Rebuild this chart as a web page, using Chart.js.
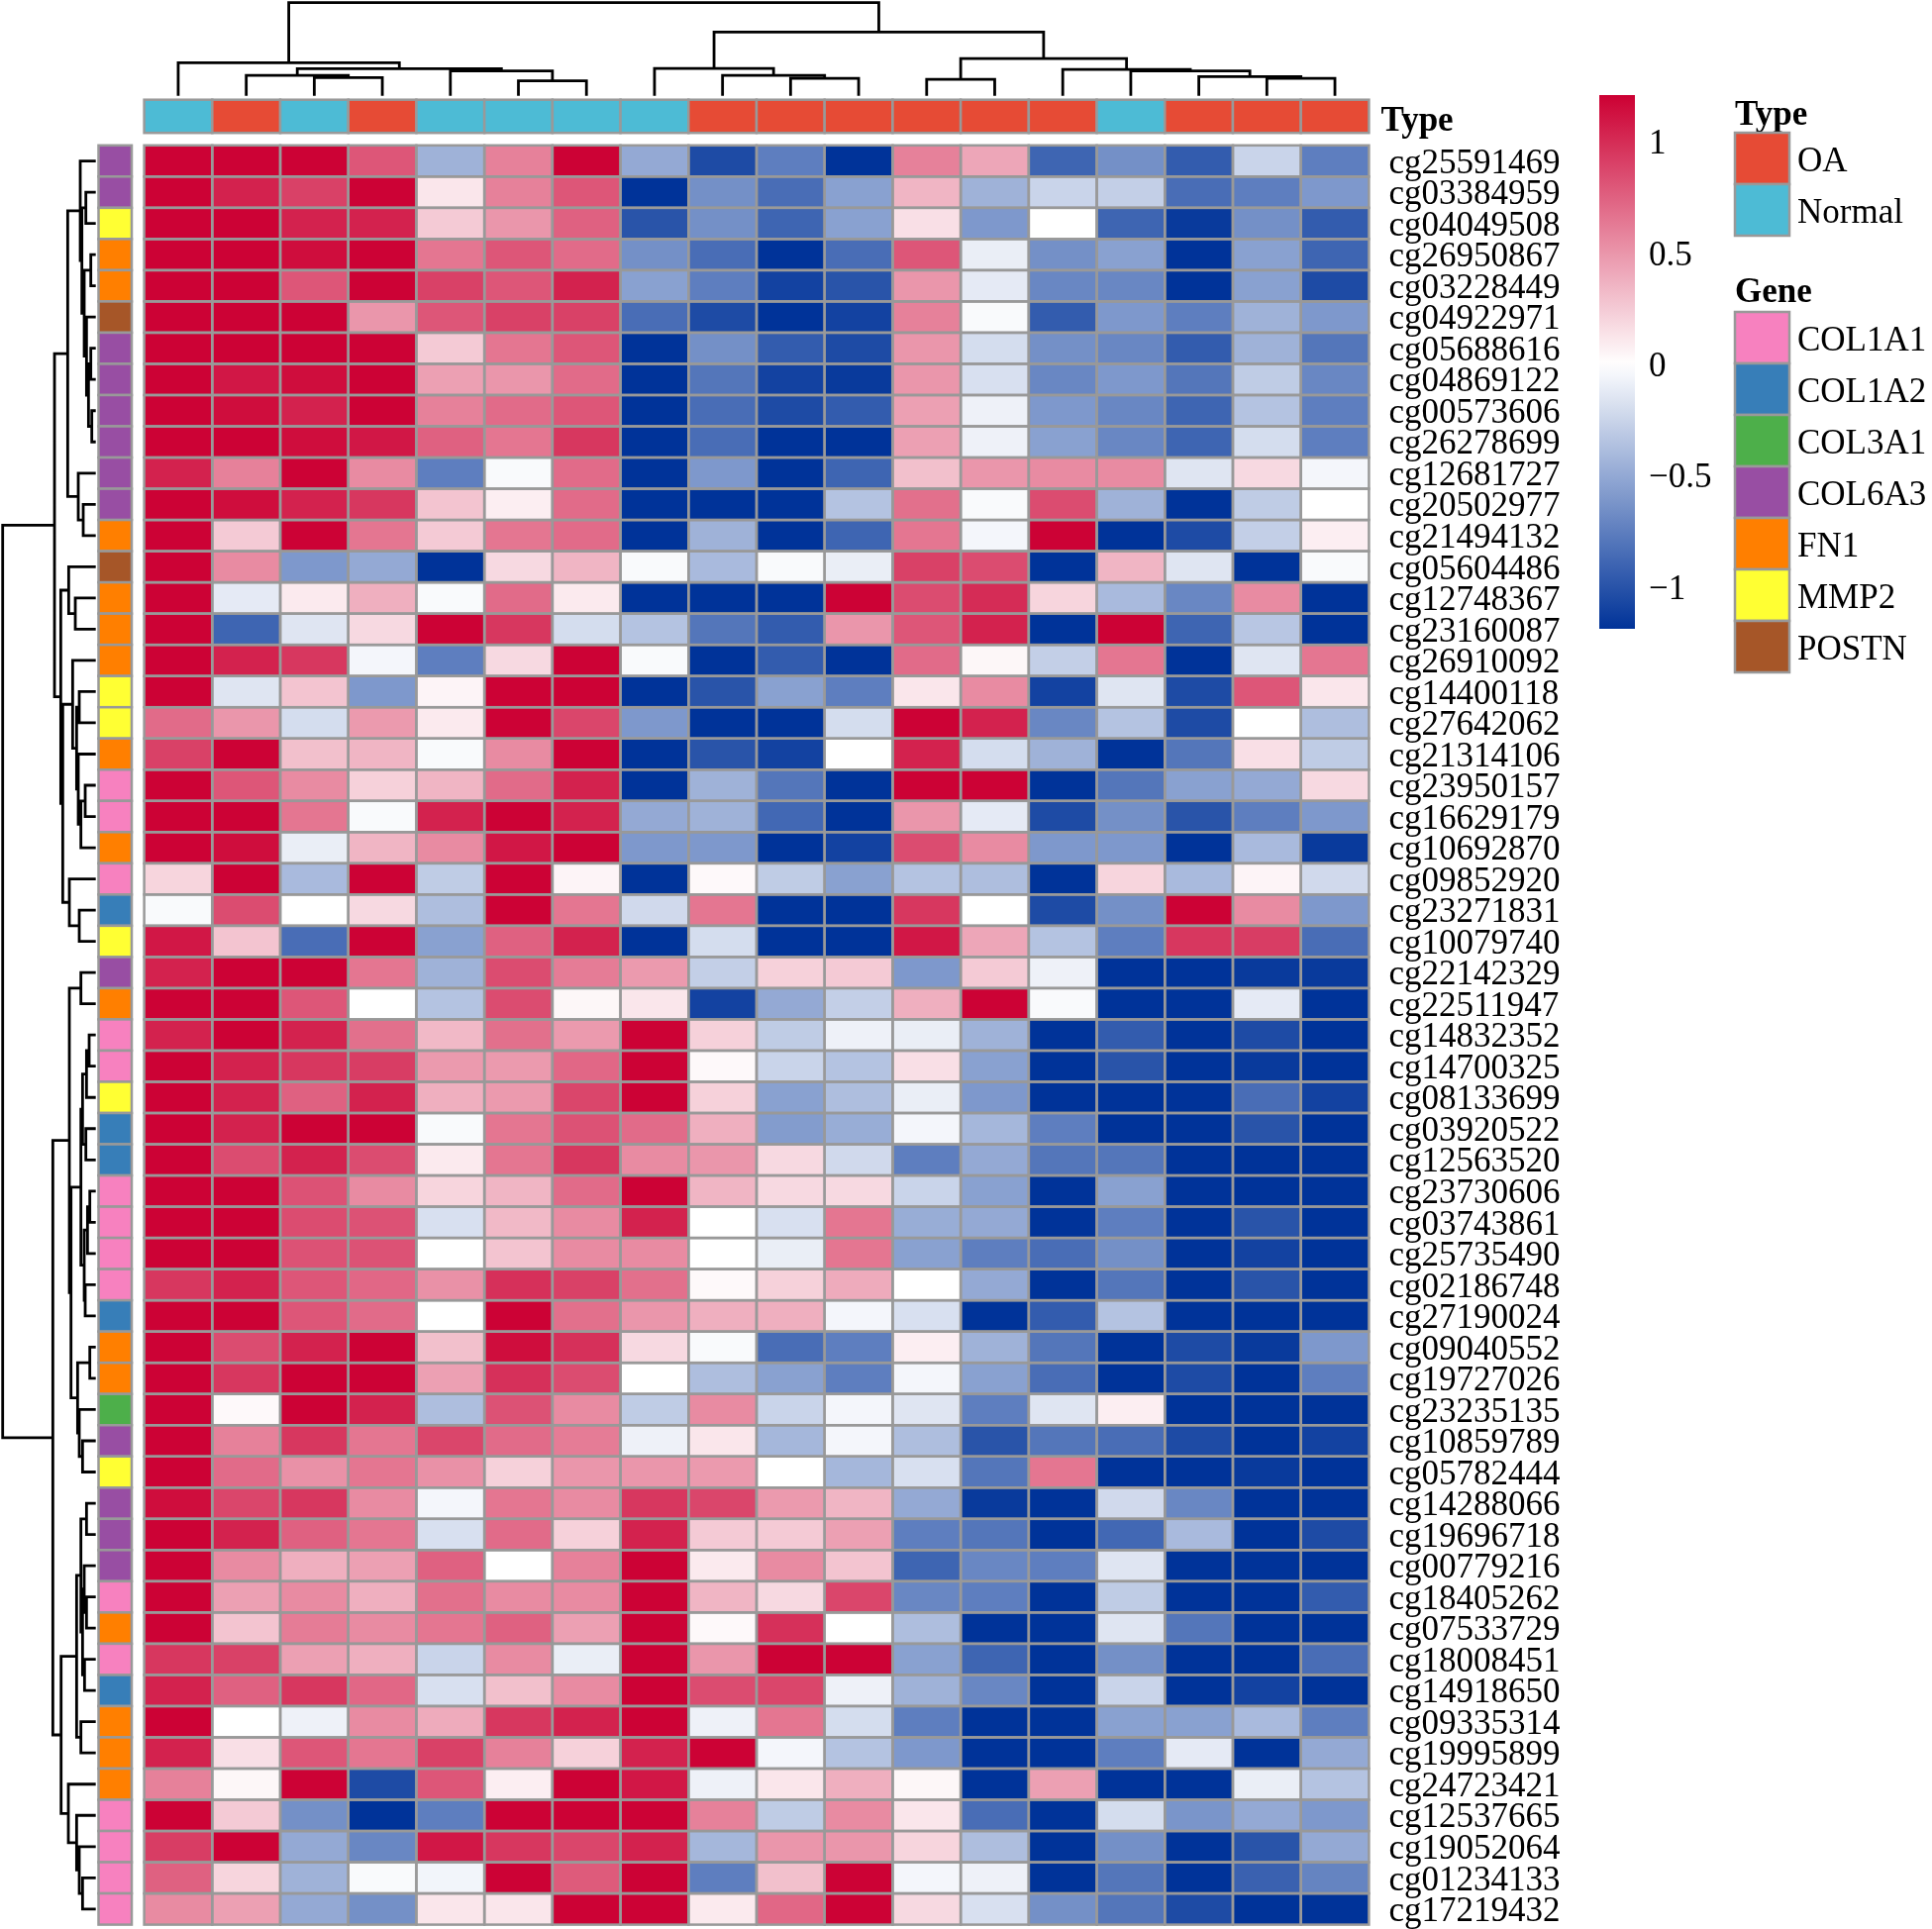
<!DOCTYPE html>
<html>
<head>
<meta charset="utf-8">
<script src="https://cdn.jsdelivr.net/npm/chart.js@4.4.1/dist/chart.umd.min.js"></script>
<style>
  html, body { margin: 0; padding: 0; background: #fff; }
  canvas { display: block; }
</style>
</head>
<body>
<canvas id="heatmap" width="1951" height="1948"></canvas>
<script>
// Probe names (rows, top to bottom)
const probes = [
  'cg25591469','cg03384959','cg04049508','cg26950867','cg03228449','cg04922971','cg05688616','cg04869122',
  'cg00573606','cg26278699','cg12681727','cg20502977','cg21494132','cg05604486','cg12748367','cg23160087',
  'cg26910092','cg14400118','cg27642062','cg21314106','cg23950157','cg16629179','cg10692870','cg09852920',
  'cg23271831','cg10079740','cg22142329','cg22511947','cg14832352','cg14700325','cg08133699','cg03920522',
  'cg12563520','cg23730606','cg03743861','cg25735490','cg02186748','cg27190024','cg09040552','cg19727026',
  'cg23235135','cg10859789','cg05782444','cg14288066','cg19696718','cg00779216','cg18405262','cg07533729',
  'cg18008451','cg14918650','cg09335314','cg19995899','cg24723421','cg12537665','cg19052064','cg01234133',
  'cg17219432'
];

// Gene annotation of each probe
const probeGene = [
  'COL6A3','COL6A3','MMP2','FN1','FN1','POSTN','COL6A3','COL6A3','COL6A3','COL6A3','COL6A3','COL6A3',
  'FN1','POSTN','FN1','FN1','FN1','MMP2','MMP2','FN1','COL1A1','COL1A1','FN1','COL1A1','COL1A2','MMP2',
  'COL6A3','FN1','COL1A1','COL1A1','MMP2','COL1A2','COL1A2','COL1A1','COL1A1','COL1A1','COL1A1','COL1A2',
  'FN1','FN1','COL3A1','COL6A3','MMP2','COL6A3','COL6A3','COL6A3','COL1A1','FN1','COL1A1','COL1A2',
  'FN1','FN1','FN1','COL1A1','COL1A1','COL1A1','COL1A1'
];

// Sample type of each column (left to right)
const sampleType = ['Normal','OA','Normal','OA','Normal','Normal','Normal','Normal','OA',
                    'OA','OA','OA','OA','OA','Normal','OA','OA','OA'];

// Scaled methylation values, one array per probe
const methylation = [
  [1.2,1.2,1.2,0.8,-0.45,0.6,1.2,-0.5,-1.05,-0.75,-1.2,0.6,0.42,-0.9,-0.65,-0.95,-0.25,-0.75],
  [1.2,1.05,0.9,1.2,0.12,0.6,0.8,-1.2,-0.65,-0.85,-0.55,0.35,-0.45,-0.25,-0.28,-0.85,-0.75,-0.6],
  [1.2,1.2,1.05,1.05,0.25,0.5,0.75,-1.0,-0.65,-0.9,-0.55,0.15,-0.6,0.0,-0.9,-1.15,-0.65,-0.95],
  [1.2,1.2,1.15,1.2,0.65,0.8,0.7,-0.65,-0.85,-1.2,-0.85,0.8,-0.1,-0.65,-0.55,-1.2,-0.55,-0.9],
  [1.2,1.2,0.8,1.2,0.9,0.8,1.05,-0.55,-0.75,-1.1,-1.0,0.5,-0.12,-0.7,-0.7,-1.2,-0.55,-1.05],
  [1.2,1.2,1.2,0.5,0.8,0.9,0.9,-0.85,-1.05,-1.2,-1.1,0.6,-0.03,-0.95,-0.6,-0.75,-0.45,-0.6],
  [1.2,1.2,1.2,1.2,0.25,0.65,0.8,-1.2,-0.65,-0.95,-1.05,0.5,-0.2,-0.65,-0.7,-0.95,-0.45,-0.8],
  [1.2,1.1,1.15,1.2,0.45,0.5,0.7,-1.2,-0.8,-1.1,-1.15,0.5,-0.18,-0.7,-0.6,-0.8,-0.3,-0.7],
  [1.2,1.15,1.05,1.2,0.6,0.7,0.8,-1.2,-0.85,-1.05,-0.95,0.45,-0.08,-0.6,-0.7,-0.9,-0.35,-0.75],
  [1.2,1.2,1.15,1.1,0.75,0.65,0.95,-1.2,-0.85,-1.2,-1.2,0.45,-0.08,-0.55,-0.7,-0.9,-0.2,-0.75],
  [1.05,0.6,1.2,0.55,-0.75,-0.03,0.7,-1.2,-0.6,-1.2,-0.9,0.3,0.5,0.55,0.55,-0.15,0.18,-0.05],
  [1.2,1.15,1.05,0.95,0.28,0.08,0.7,-1.2,-1.2,-1.2,-0.35,0.68,-0.03,0.85,-0.45,-1.2,-0.3,0.0],
  [1.2,0.25,1.2,0.65,0.25,0.65,0.7,-1.2,-0.45,-1.2,-0.9,0.65,-0.05,1.2,-1.2,-1.05,-0.28,0.08],
  [1.2,0.55,-0.6,-0.5,-1.2,0.18,0.35,-0.03,-0.4,-0.03,-0.1,0.9,0.85,-1.2,0.35,-0.15,-1.2,-0.03],
  [1.2,-0.12,0.1,0.38,-0.03,0.7,0.1,-1.2,-1.2,-1.2,1.2,0.85,1.0,0.2,-0.4,-0.7,0.55,-1.2],
  [1.2,-0.9,-0.15,0.18,1.2,0.95,-0.2,-0.35,-0.8,-0.95,0.5,0.8,1.05,-1.2,1.2,-0.9,-0.33,-1.2],
  [1.2,1.05,0.95,-0.05,-0.75,0.18,1.2,-0.03,-1.2,-0.95,-1.2,0.7,0.04,-0.28,0.65,-1.2,-0.15,0.65],
  [1.2,-0.15,0.28,-0.6,0.05,1.2,1.2,-1.2,-1.0,-0.55,-0.75,0.12,0.55,-1.1,-0.15,-1.05,0.8,0.12],
  [0.7,0.5,-0.2,0.48,0.1,1.2,0.88,-0.6,-1.2,-1.2,-0.2,1.2,1.05,-0.7,-0.35,-1.05,0.0,-0.38],
  [0.9,1.2,0.3,0.35,-0.03,0.55,1.2,-1.2,-1.0,-1.1,0.0,1.05,-0.2,-0.45,-1.2,-0.8,0.15,-0.3],
  [1.2,0.8,0.55,0.22,0.35,0.7,1.05,-1.2,-0.45,-0.8,-1.2,1.2,1.2,-1.2,-0.8,-0.55,-0.5,0.18],
  [1.2,1.2,0.65,-0.03,1.05,1.2,1.05,-0.5,-0.45,-0.88,-1.2,0.5,-0.12,-1.05,-0.65,-1.0,-0.75,-0.6],
  [1.2,1.15,-0.1,0.35,0.55,1.1,1.2,-0.6,-0.6,-1.2,-1.1,0.85,0.55,-0.6,-0.6,-1.2,-0.4,-1.15],
  [0.2,1.2,-0.4,1.2,-0.3,1.2,0.05,-1.2,0.03,-0.3,-0.55,-0.35,-0.38,-1.2,0.2,-0.4,0.05,-0.22],
  [-0.03,0.85,0.0,0.18,-0.38,1.2,0.65,-0.22,0.65,-1.2,-1.2,0.95,0.0,-1.05,-0.65,1.2,0.55,-0.6],
  [1.1,0.28,-0.85,1.2,-0.55,0.75,1.05,-1.2,-0.2,-1.2,-1.2,1.1,0.42,-0.35,-0.75,0.95,0.92,-0.85],
  [1.05,1.2,1.2,0.65,-0.45,0.85,0.62,0.48,-0.28,0.22,0.25,-0.6,0.25,-0.08,-1.2,-1.2,-1.15,-1.15],
  [1.2,1.2,0.8,0.0,-0.35,0.85,0.04,0.12,-1.1,-0.5,-0.28,0.38,1.2,-0.03,-1.2,-1.2,-0.12,-1.2],
  [1.05,1.2,1.05,0.68,0.33,0.68,0.48,1.2,0.22,-0.3,-0.08,-0.1,-0.45,-1.2,-0.95,-1.2,-1.05,-1.2],
  [1.2,1.05,0.95,0.92,0.48,0.48,0.72,1.2,0.03,-0.25,-0.35,0.15,-0.55,-1.2,-1.0,-1.2,-1.15,-1.2],
  [1.2,1.05,0.75,1.05,0.38,0.48,0.88,1.2,0.22,-0.55,-0.38,-0.1,-0.6,-1.2,-1.2,-1.2,-0.85,-1.1],
  [1.2,1.05,1.2,1.2,-0.03,0.65,0.82,0.7,0.38,-0.58,-0.48,-0.05,-0.42,-0.75,-1.2,-1.2,-1.0,-1.2],
  [1.2,0.85,1.05,0.85,0.1,0.65,0.95,0.55,0.5,0.18,-0.22,-0.75,-0.5,-0.8,-0.8,-1.2,-1.2,-1.2],
  [1.2,1.2,0.82,0.55,0.2,0.35,0.7,1.2,0.35,0.18,0.18,-0.25,-0.55,-1.2,-0.55,-1.2,-1.2,-1.2],
  [1.2,1.2,0.85,0.82,-0.18,0.33,0.55,1.05,0.0,-0.18,0.65,-0.48,-0.5,-1.2,-0.75,-1.2,-1.0,-1.2],
  [1.2,1.2,0.82,0.82,0.0,0.28,0.55,0.55,0.0,-0.1,0.65,-0.55,-0.75,-0.85,-0.65,-1.2,-1.1,-1.2],
  [0.95,1.05,0.8,0.72,0.52,0.98,0.9,0.68,0.03,0.22,0.4,0.0,-0.5,-1.2,-0.8,-1.2,-1.0,-1.2],
  [1.2,1.2,0.8,0.7,0.0,1.2,0.68,0.5,0.38,0.38,-0.05,-0.18,-1.2,-0.95,-0.35,-1.2,-1.2,-1.2],
  [1.2,0.85,1.05,1.2,0.3,1.15,0.98,0.18,-0.03,-0.85,-0.75,0.08,-0.45,-0.8,-1.2,-1.05,-1.15,-0.6],
  [1.2,0.95,1.2,1.2,0.45,0.98,0.85,0.0,-0.38,-0.55,-0.75,-0.05,-0.55,-0.85,-1.2,-1.05,-1.2,-0.75],
  [1.2,0.03,1.2,1.05,-0.38,0.82,0.55,-0.3,0.55,-0.25,-0.05,-0.15,-0.75,-0.15,0.08,-1.2,-1.2,-1.2],
  [1.2,0.6,0.95,0.65,0.88,0.7,0.62,-0.08,0.12,-0.42,-0.05,-0.38,-1.0,-0.8,-0.85,-1.05,-1.2,-1.1],
  [1.2,0.7,0.52,0.65,0.52,0.22,0.5,0.5,0.48,0.0,-0.42,-0.18,-0.8,0.65,-1.2,-1.2,-1.15,-1.2],
  [1.15,0.88,0.95,0.55,-0.05,0.65,0.55,0.95,0.88,0.48,0.35,-0.5,-1.15,-1.2,-0.22,-0.7,-1.2,-1.2],
  [1.2,1.05,0.75,0.65,-0.18,0.7,0.22,1.05,0.25,0.25,0.45,-0.75,-0.8,-1.2,-0.88,-0.4,-1.2,-1.05],
  [1.2,0.55,0.38,0.45,0.75,0.0,0.6,1.2,0.1,0.55,0.28,-0.9,-0.7,-0.75,-0.15,-1.2,-1.2,-1.2],
  [1.2,0.45,0.55,0.38,0.68,0.55,0.55,1.2,0.35,0.18,0.88,-0.7,-0.75,-1.2,-0.3,-1.2,-1.2,-0.95],
  [1.2,0.28,0.62,0.55,0.65,0.75,0.45,1.2,0.03,0.98,0.0,-0.38,-1.2,-1.2,-0.15,-0.8,-1.2,-1.2],
  [0.95,0.9,0.45,0.38,-0.25,0.55,-0.1,1.2,0.5,1.2,1.2,-0.55,-0.9,-1.2,-0.65,-1.2,-1.2,-0.85],
  [1.05,0.75,0.95,0.72,-0.18,0.3,0.55,1.2,0.85,0.88,-0.08,-0.45,-0.7,-1.2,-0.25,-1.2,-1.1,-1.2],
  [1.2,0.0,-0.08,0.55,0.4,0.95,1.05,1.2,-0.08,0.65,-0.2,-0.75,-1.2,-1.2,-0.55,-0.55,-0.4,-0.75],
  [1.05,0.15,0.8,0.65,0.9,0.6,0.22,1.05,1.2,-0.05,-0.35,-0.6,-1.2,-1.2,-0.75,-0.12,-1.2,-0.5],
  [0.6,0.04,1.2,-1.05,0.8,0.08,1.2,1.1,-0.08,0.12,0.38,0.04,-1.2,0.45,-1.2,-1.2,-0.1,-0.35],
  [1.2,0.25,-0.65,-1.2,-0.75,1.2,1.2,1.2,0.6,-0.3,0.55,0.12,-0.85,-1.2,-0.2,-0.62,-0.5,-0.6],
  [0.92,1.2,-0.5,-0.7,1.1,0.95,0.88,1.05,-0.42,0.5,0.5,0.2,-0.38,-1.2,-0.65,-1.2,-1.0,-0.5],
  [0.75,0.2,-0.45,-0.03,-0.06,1.2,0.78,1.2,-0.75,0.3,1.2,-0.05,-0.08,-1.2,-0.8,-1.2,-0.92,-0.72],
  [0.55,0.45,-0.5,-0.65,0.12,0.12,1.2,1.2,0.1,0.72,1.2,0.18,-0.18,-0.65,-0.8,-1.05,-1.2,-1.2]
];

// Dendrograms: [left, right, height], leaves are column / row indices
const colTree = [
  [0, [[1, [2, 3, 55], 62], [4, [5, 6, 45], 75], 82], 100],
  [[7, [8, [9, 10, 53], 62], 83],
   [[11, 12, 50], [13, [14, [15, [16, 17, 53], 58], 75], 80], 113], 193],
  282
];
const rowTree = [
  [
    [[0, [[1, 2, 30], [[3, 4, 15], [5, [[6, 7, 15], [8, 9, 12], 22], 28], 35], 42], 47],
     [10, [11, 12, 38], 53], 85],
    [[13, [14, 15, 62], 82],
     [[16, [[17, 18, 50], [19, [[20, 21, 32], 22, 45], 53], 58], 70],
      [23, [24, 25, 50], 80], 100], 106],
    125
  ],
  [
    [[26, 27, 45],
     [[[[[28, 29, 20], 30, 28], [31, 32, 30], 40],
       [[[33, 34, 18], 35, 25], [36, 37, 32], 35], 45],
      [[38, 39, 18], [40, [41, 42, 40], 50], 55], 75], 80],
    [[[[43, 44, 28], [[45, [46, 47, 28], 35], [48, 49, 34], 40], 45], [50, 51, 45], 58],
     [52, [53, [54, [55, 56, 40], 50], 58], 83], 105],
    130
  ],
  282
];
const treeMax = 282;

const typeColors = { OA: '#E64B35', Normal: '#4DBBD5' };
const geneColors = {
  COL1A1: '#F781BF', COL1A2: '#377EB8', COL3A1: '#4DAF4A', COL6A3: '#984EA3',
  FN1: '#FF7F00', MMP2: '#FFFF33', POSTN: '#A65628'
};
const colorTicks = [1, 0.5, 0, -0.5, -1];
const colorMin = -1.19, colorMax = 1.21;

// layout (pixels)
const LEFT = 145.6, TOP = 146.8, RIGHT = 1382.4, BOTTOM = 1943.6;
const CELL_W = (RIGHT - LEFT) / sampleType.length;
const CELL_H = (BOTTOM - TOP) / probes.length;
const TREE_LEAF = 96.7, TREE_DEPTH = 94;
const ANN_GAP = 12.6, ANN_SIZE = 33.5;
const FONT = '"Liberation Serif", "Times New Roman", serif';
const GRID = '#999999';
const TEXT_SHIFT = 4; // serif glyphs sit a little high with 'middle'

function valueColor(v) {
  const t = Math.max(-1, Math.min(1, v >= 0 ? v / colorMax : v / -colorMin));
  const lo = [0, 51, 153], hi = [204, 0, 51], w = [255, 255, 255];
  const end = t >= 0 ? hi : lo, a = Math.abs(t);
  const c = w.map((x, i) => Math.round(x + (end[i] - x) * a));
  return `rgb(${c[0]},${c[1]},${c[2]})`;
}

// turn a tree into polyline points (pos along leaves, height)
function treeSegments(node, out) {
  if (typeof node === 'number') return { pos: node + 0.5, h: 0 };
  const a = treeSegments(node[0], out), b = treeSegments(node[1], out), h = node[2];
  out.push([a.pos, a.h], [a.pos, h], [b.pos, h], [b.pos, b.h], null);
  return { pos: (a.pos + b.pos) / 2, h: h };
}

const colSegs = [], rowSegs = [];
treeSegments(colTree, colSegs);
treeSegments(rowTree, rowSegs);
const depthPx = TREE_DEPTH / treeMax;
const colTreeData = colSegs.map(p => p ? { x: p[0], y: (TREE_LEAF - p[1] * depthPx - TOP) / CELL_H } : { x: null, y: null });
const rowTreeData = rowSegs.map(p => p ? { x: (TREE_LEAF - p[1] * depthPx - LEFT) / CELL_W, y: p[0] } : { x: null, y: null });

const heatmapPlugin = {
  id: 'heatmapCells',
  beforeDatasetsDraw(chart) {
    const ctx = chart.ctx, xs = chart.scales.x, ys = chart.scales.y, area = chart.chartArea;
    ctx.save();
    // cells
    methylation.forEach((row, r) => row.forEach((v, c) => {
      const x0 = xs.getPixelForValue(c), x1 = xs.getPixelForValue(c + 1);
      const y0 = ys.getPixelForValue(r), y1 = ys.getPixelForValue(r + 1);
      ctx.fillStyle = valueColor(v);
      ctx.fillRect(x0, y0, x1 - x0, y1 - y0);
    }));
    ctx.strokeStyle = GRID;
    ctx.lineWidth = 2.5;
    methylation.forEach((row, r) => row.forEach((v, c) => {
      const x0 = xs.getPixelForValue(c), x1 = xs.getPixelForValue(c + 1);
      const y0 = ys.getPixelForValue(r), y1 = ys.getPixelForValue(r + 1);
      ctx.strokeRect(x0, y0, x1 - x0, y1 - y0);
    }));
    // column annotation (Type)
    const ty1 = area.top - ANN_GAP, ty0 = ty1 - ANN_SIZE;
    sampleType.forEach((t, c) => {
      const x0 = xs.getPixelForValue(c), x1 = xs.getPixelForValue(c + 1);
      ctx.fillStyle = typeColors[t];
      ctx.fillRect(x0, ty0, x1 - x0, ANN_SIZE);
      ctx.strokeRect(x0, ty0, x1 - x0, ANN_SIZE);
    });
    // row annotation (Gene)
    const gx1 = area.left - ANN_GAP, gx0 = gx1 - ANN_SIZE;
    probeGene.forEach((g, r) => {
      const y0 = ys.getPixelForValue(r), y1 = ys.getPixelForValue(r + 1);
      ctx.fillStyle = geneColors[g];
      ctx.fillRect(gx0, y0, ANN_SIZE, y1 - y0);
      ctx.strokeRect(gx0, y0, ANN_SIZE, y1 - y0);
    });
    ctx.fillStyle = '#000';
    ctx.textBaseline = 'middle';
    ctx.textAlign = 'left';
    ctx.font = `bold 35px ${FONT}`;
    ctx.fillText('Type', area.right + 12, (ty0 + ty1) / 2 + TEXT_SHIFT + 2);
    ctx.restore();
  },
  afterDraw(chart) {
    const ctx = chart.ctx;
    ctx.save();
    // colour bar
    const cbX = 1615, cbW = 36, cbTop = 96, cbBot = 635;
    const grad = ctx.createLinearGradient(0, cbTop, 0, cbBot);
    for (let i = 0; i <= 40; i++) {
      const v = colorMax - (colorMax - colorMin) * i / 40;
      grad.addColorStop(i / 40, valueColor(v));
    }
    ctx.fillStyle = grad;
    ctx.fillRect(cbX, cbTop, cbW, cbBot - cbTop);
    ctx.fillStyle = '#000';
    ctx.font = `35px ${FONT}`;
    ctx.textBaseline = 'middle';
    ctx.textAlign = 'left';
    colorTicks.forEach(v => {
      const y = cbTop + (colorMax - v) / (colorMax - colorMin) * (cbBot - cbTop);
      ctx.fillText(String(v).replace('-', '\u2212'), cbX + 50, y + TEXT_SHIFT - 1);
    });
    // annotation legends
    const lx = 1752, bw = 55, bh = 52;
    const drawGroup = (title, entries, colors, titleY, top) => {
      ctx.font = `bold 35px ${FONT}`;
      ctx.fillStyle = '#000';
      ctx.fillText(title, lx, titleY + TEXT_SHIFT);
      entries.forEach((name, i) => {
        const y = top + i * bh;
        ctx.fillStyle = colors[name];
        ctx.fillRect(lx, y, bw, bh);
        ctx.strokeStyle = GRID;
        ctx.lineWidth = 2.5;
        ctx.strokeRect(lx, y, bw, bh);
        ctx.fillStyle = '#000';
        ctx.font = `35px ${FONT}`;
        ctx.fillText(name, lx + bw + 8, y + bh / 2 + TEXT_SHIFT);
      });
    };
    drawGroup('Type', Object.keys(typeColors), typeColors, 113, 134);
    drawGroup('Gene', Object.keys(geneColors), geneColors, 292, 315);
    ctx.restore();
  }
};

const lineStyle = {
  showLine: true, borderColor: '#000', borderWidth: 2.8, pointRadius: 0,
  spanGaps: false, clip: false, borderJoinStyle: 'miter'
};

new Chart(document.getElementById('heatmap').getContext('2d'), {
  type: 'scatter',
  data: {
    datasets: [
      Object.assign({ label: 'column dendrogram', data: colTreeData }, lineStyle),
      Object.assign({ label: 'row dendrogram', data: rowTreeData }, lineStyle)
    ]
  },
  options: {
    responsive: false,
    animation: false,
    events: [],
    layout: { padding: { left: LEFT, top: TOP, right: 1951 - RIGHT - 300, bottom: 1948 - BOTTOM } },
    plugins: { legend: { display: false }, tooltip: { enabled: false } },
    scales: {
      x: { type: 'linear', min: 0, max: sampleType.length, display: false },
      y: {
        type: 'linear', min: 0, max: probes.length, reverse: true, position: 'right',
        grid: { display: false }, border: { display: false },
        afterBuildTicks: s => { s.ticks = probes.map((p, i) => ({ value: i + 0.5 })); },
        afterFit: s => { s.width = 300; s.paddingTop = 0; s.paddingBottom = 0; },
        ticks: {
          autoSkip: false, padding: 12, color: '#000', labelOffset: 3,
          font: { family: FONT, size: 35 },
          callback: (v, i) => probes[i]
        }
      }
    }
  },
  plugins: [heatmapPlugin]
});
</script>
</body>
</html>
